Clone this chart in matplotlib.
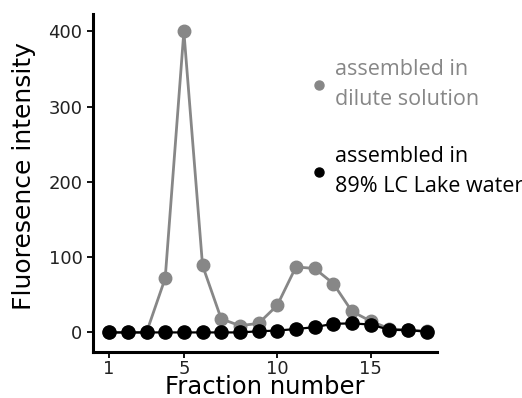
import matplotlib
matplotlib.use("Agg")
import matplotlib.pyplot as plt
from matplotlib.lines import Line2D

fractions = list(range(1, 19))
dilute = [0, 0, 0, 72, 400, 89, 18, 9, 12, 36, 87, 85, 65, 28, 15, 5, 3, 2]
lake = [0, 0, 0, 0, 0, 0, 0, 0, 1.5, 2.5, 4.5, 7, 11.5, 12, 10.5, 3.5, 3, 1]
xticks = [1, 5, 10, 15]
yticks = [0, 100, 200, 300, 400]
labels = ["assembled in\ndilute solution", "assembled in\n89% LC Lake water"]

gray = "#878787"

fig = plt.figure(figsize=(5.22, 3.98), dpi=100)
ax = fig.add_axes([0.178, 0.1156, 0.659, 0.849])

ax.plot(fractions, dilute, color=gray, lw=2, marker="o", ms=9, mec=gray, mfc=gray, zorder=2)
ax.plot(fractions, lake, color="black", lw=1.6, marker="o", ms=9.5, mec="black", mfc="black", zorder=3)

ax.set_xlim(0.13, 18.55)
ax.set_ylim(-26, 423)
ax.set_xticks(xticks)
ax.set_yticks(yticks)
for s in ["top", "right"]:
    ax.spines[s].set_visible(False)
for s in ["left", "bottom"]:
    ax.spines[s].set_linewidth(2.2)
ax.tick_params(width=1.3, length=4, labelsize=13, colors="black", labelcolor="#222222")
ax.tick_params(axis="x", pad=2)
ax.set_xlabel("Fraction number", fontsize=17.5, va="baseline")
ax.set_ylabel("Fluoresence intensity", fontsize=18)
ax.xaxis.set_label_coords(0.5, -0.124)
ax.yaxis.set_label_coords(-0.165, 0.52)

handles = [Line2D([], [], ls="none", marker="o", ms=6.5, color=gray),
           Line2D([], [], ls="none", marker="o", ms=6.5, color="black")]
leg = ax.legend(handles, labels, loc="upper left", bbox_to_anchor=(0.582, 0.925),
                frameon=False, labelcolor=[gray, "black"], handlelength=0.6,
                handletextpad=0.45, labelspacing=1.7,
                prop={"family": "Open Sans", "size": 15.5})
for t in leg.get_texts():
    t.set_linespacing(1.55)

fig.savefig("out.png", dpi=100)
